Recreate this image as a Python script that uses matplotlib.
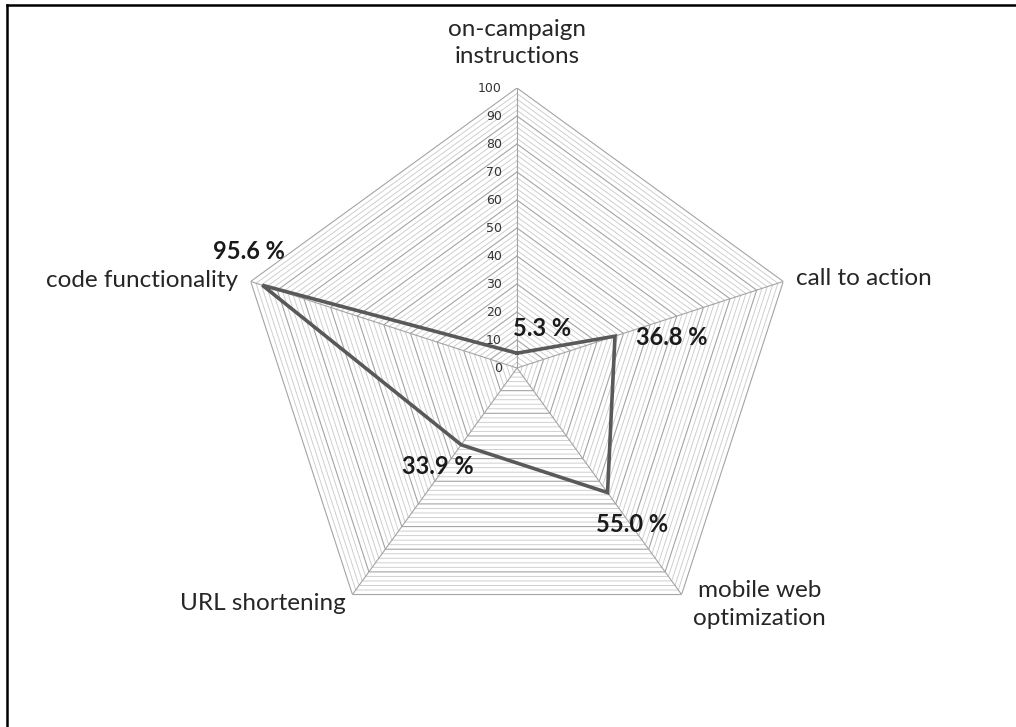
import numpy as np
import matplotlib
matplotlib.use("Agg")
import matplotlib.pyplot as plt
from matplotlib.lines import Line2D

# datos del grafico
categorias = ["on-campaign\ninstructions", "call to action", "mobile web\noptimization",
              "URL shortening", "code functionality"]
valores = [5.3, 36.8, 55.0, 33.9, 95.6]
etiquetas = ["5.3 %", "36.8 %", "55.0 %", "33.9 %", "95.6 %"]
ticks_r = [0, 10, 20, 30, 40, 50, 60, 70, 80, 90, 100]

W, H = 1016, 727
fig = plt.figure(figsize=(W / 100, H / 100), dpi=100)
# centro en (517, 368) px, radio 280 px
ax = fig.add_axes([(517 - 280) / W, (H - 368 - 280) / H, 560 / W, 560 / H], projection="polar")
ax.set_theta_offset(np.pi / 2)
ax.set_theta_direction(-1)
ax.set_ylim(0, 100)
ax.grid(False)
ax.set_xticks([])
ax.set_yticks([])
ax.spines["polar"].set_visible(False)
ax.patch.set_alpha(0)

n = len(categorias)
angulos = np.linspace(0, 2 * np.pi, n, endpoint=False)
cerrado = np.append(angulos, angulos[0])

# rejilla pentagonal: menores cada 2, mayores cada 10
for r in range(2, 101, 2):
    mayor = r % 10 == 0
    ax.plot(cerrado, [r] * (n + 1), color="#a4a4a4" if mayor else "#cccccc",
            lw=0.8 if mayor else 0.65, zorder=1)

# radios
for a in angulos:
    ax.plot([a, a], [0, 100], color="#a4a4a4", lw=0.8, zorder=1)

# serie
ax.plot(cerrado, valores + [valores[0]], color="#595959", lw=2.6, zorder=3,
        solid_joinstyle="miter")

# etiquetas del eje radial
for t in ticks_r:
    ax.annotate(str(t), xy=(0, t), xytext=(-15, 0), textcoords="offset pixels",
                ha="right", va="center", fontsize=9, color="#333333",
                family="DejaVu Sans", zorder=4)

# etiquetas de categorias
pos_cat = [((0, 45), "center"), ((13, 3), "left"),
           ((78, -10), "center"), ((-7, -9), "right"),
           ((-13, 1), "right")]
for a, txt, (off, ha) in zip(angulos, categorias, pos_cat):
    ax.annotate(txt, xy=(a, 100), xytext=off, textcoords="offset pixels",
                ha=ha, va="center", multialignment="center", fontsize=17.5,
                color="#262626", family="Lato", linespacing=1.4,
                annotation_clip=False)

# etiquetas de datos
off_dat = [(25, 25), (57, -1), (25, -32), (-23, -22), (-13, 34)]
for a, v, txt, off in zip(angulos, valores, etiquetas, off_dat):
    ax.annotate(txt, xy=(a, v), xytext=off, textcoords="offset pixels",
                ha="center", va="center", fontsize=17, fontweight="bold",
                color="#1a1a1a", family="Lato", zorder=5,
                annotation_clip=False)

# marco superior e izquierdo
fig.add_artist(Line2D([7 / W, 1], [1 - 5 / H, 1 - 5 / H], color="black", lw=1.8))
fig.add_artist(Line2D([7 / W, 7 / W], [0, 1 - 5 / H], color="black", lw=1.8))

fig.savefig("out.png", dpi=100)
